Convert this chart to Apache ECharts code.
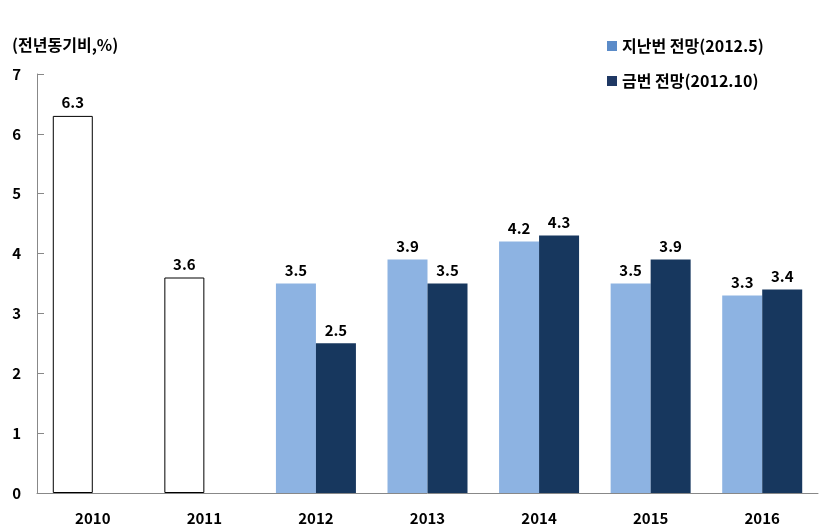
<!DOCTYPE html>
<html>
<head>
<meta charset="utf-8">
<script src="https://cdn.jsdelivr.net/npm/echarts@6/dist/echarts.min.js"></script>
<style>html,body{margin:0;padding:0;background:#fff}#c{width:832px;height:529px}</style>
</head>
<body>
<div id="c"></div>
<script>
var categories = ['2010','2011','2012','2013','2014','2015','2016'];
var previousForecast = [6.3, 3.6, 3.5, 3.9, 4.2, 3.5, 3.3];
var currentForecast = [null, null, 2.5, 3.5, 4.3, 3.9, 3.4];
var actualYears = 2; // first entries are actual results (drawn as white bars)
var yTicks = [0,1,2,3,4,5,6,7];
var seriesNames = ['지난번 전망(2012.5)', '금번 전망(2012.10)'];
var yTitle = '(전년동기비,%)';

var FONT = '"Noto Sans CJK KR", "Malgun Gothic", sans-serif';
var lightBlue = '#8DB3E2', darkBlue = '#17375E';

var prevData = previousForecast.map(function(v, i){
  if (i < actualYears) return {value: v, itemStyle: {color: '#ffffff', borderColor: '#000000', borderWidth: 1}};
  return v;
});

var chart = echarts.init(document.getElementById('c'));
chart.setOption({
  animation: false,
  grid: {left: 37, right: 14, top: 74, bottom: 36},
  title: {text: yTitle, left: 7, top: 32, textStyle: {fontFamily: FONT, fontSize: 16, fontWeight: 'bold', color: '#000'}},
  legend: {
    orient: 'vertical', left: 602, top: 30, itemWidth: 10, itemHeight: 10, itemGap: 13, icon: 'rect',
    textStyle: {fontFamily: FONT, fontSize: 16, fontWeight: 'bold', color: '#000', lineHeight: 22},
    data: [
      {name: seriesNames[0], itemStyle: {color: '#5B8BC8'}},
      {name: seriesNames[1], itemStyle: {color: '#1F3864'}}
    ]
  },
  xAxis: {
    type: 'category', data: categories,
    axisLine: {lineStyle: {color: '#888'}},
    axisTick: {inside: true, length: 5, lineStyle: {color: '#888'}},
    axisLabel: {fontFamily: FONT, fontSize: 15, fontWeight: 'bold', color: '#000', margin: 18}
  },
  yAxis: {
    type: 'value', min: 0, max: 7, interval: 1,
    splitLine: {show: false},
    axisLine: {show: true, lineStyle: {color: '#888'}},
    axisTick: {show: true, inside: true, length: 7, lineStyle: {color: '#888'}},
    axisLabel: {fontFamily: FONT, fontSize: 15, fontWeight: 'bold', color: '#000', margin: 16,
      formatter: function(v){ return yTicks.indexOf(v) >= 0 ? String(v) : ''; }}
  },
  series: [
    {name: seriesNames[0], type: 'bar', barWidth: 40, barGap: '0%', data: prevData,
     itemStyle: {color: lightBlue},
     label: {show: true, position: 'top', distance: 6, fontFamily: FONT, fontSize: 15, fontWeight: 'bold', color: '#000',
       formatter: function(p){ return p.value.toFixed(1); }}},
    {name: seriesNames[1], type: 'bar', barWidth: 40, barGap: '0%', data: currentForecast,
     itemStyle: {color: darkBlue},
     label: {show: true, position: 'top', distance: 6, fontFamily: FONT, fontSize: 15, fontWeight: 'bold', color: '#000',
       formatter: function(p){ return p.value == null ? '' : p.value.toFixed(1); }}}
  ]
});
</script>
</body>
</html>
